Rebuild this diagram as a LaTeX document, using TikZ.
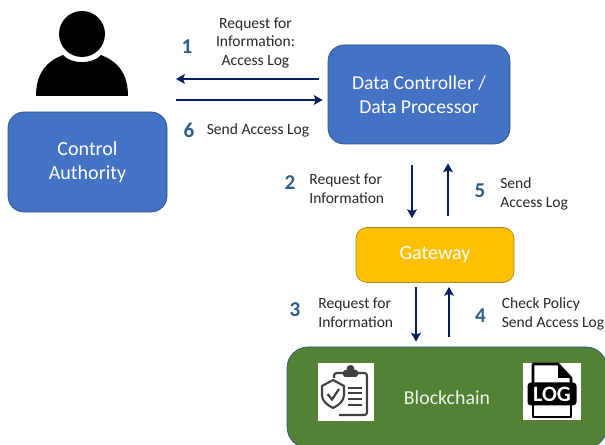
\documentclass[tikz,border=0pt]{standalone}
\usepackage{fontspec}
\setmainfont{Carlito}
\usepackage{xcolor}
\usetikzlibrary{arrows.meta,positioning}
\definecolor{boxblue}{HTML}{4472C4}
\definecolor{boxline}{HTML}{2F528F}
\definecolor{gateyellow}{HTML}{FFC000}
\definecolor{gateline}{HTML}{A98A2B}
\definecolor{chaingreen}{HTML}{548235}
\definecolor{arrownavy}{HTML}{002060}
\definecolor{stepblue}{HTML}{2E5C8A}
\definecolor{icongrey}{HTML}{404040}
\tikzset{
	actor/.style={draw=boxline, fill=boxblue, rounded corners=0.32cm, text=white, align=center, font=\fontsize{11.4}{13.6}\selectfont, inner sep=0pt},
	flow/.style={draw=arrownavy, line width=1.35pt, -{Stealth[length=5pt,width=5.5pt,inset=1pt]}},
	caption/.style={align=left, inner sep=0pt, text=black!85, font=\fontsize{8.85}{10.8}\selectfont},
	stepnum/.style={inner sep=0pt, text=stepblue, font=\fontsize{12}{14}\selectfont\bfseries}
}
\begin{document}
\begin{tikzpicture}
	\useasboundingbox (0,0) rectangle (12.1,8.9);
	%\draw [help lines] (0,0) grid (12,8);
	%Persona
	\fill [black] (1.64,8.22) circle (0.46);
	\fill [black] (0.72,6.98) .. controls (0.72,7.5) and (1.0,7.7) .. (1.26,7.8) .. controls (1.42,7.61) and (1.86,7.61) .. (2.02,7.8) .. controls (2.28,7.7) and (2.56,7.5) .. (2.56,6.98) -- cycle;
	%Riquadri
	\node [actor, minimum width=3.18cm, minimum height=2cm] (authority) at (1.75,5.66) {Control\\Authority};
	\node [actor, minimum width=3.64cm, minimum height=1.98cm, font=\fontsize{11.2}{13.6}\selectfont] (controller) at (8.38,7.01) {Data Controller /\\Data Processor};
	\node [actor, draw=gateline, fill=gateyellow, rounded corners=0.22cm, minimum width=3.16cm, minimum height=1.1cm] (gateway) at (8.70,3.80) {Gateway};
	\node [actor, draw=boxline, fill=chaingreen, minimum width=6.4cm, minimum height=2.02cm, rounded corners=0.42cm, font=\fontsize{11.3}{13}\selectfont, text=white!90!chaingreen] (blockchain) at (8.94,0.95) {Blockchain};
	%Estremi liberi
	\coordinate (toperson) at (3.52,7.32);
	\coordinate (fromperson) at (3.52,6.9);
	%Frecce
	\draw [flow, shorten <=0.18cm] (controller.west |- toperson) -- (toperson);
	\draw [flow, shorten >=0.10cm] (fromperson) -- (controller.west |- fromperson);
	\draw [flow, shorten <=0.42cm, shorten >=0.18cm] ([xshift=-0.46cm]gateway.north |- controller.south) -- ([xshift=-0.46cm]gateway.north);
	\draw [flow, shorten <=0.22cm, shorten >=0.38cm] ([xshift=0.26cm]gateway.north) -- ([xshift=0.26cm]gateway.north |- controller.south);
	\draw [flow, shorten <=0.08cm, shorten >=0.10cm] ([xshift=-0.38cm]gateway.south) -- ([xshift=-0.38cm]gateway.south |- blockchain.north);
	\draw [flow, shorten <=0.20cm, shorten >=0.08cm] ([xshift=0.28cm]gateway.south |- blockchain.north) -- ([xshift=0.28cm]gateway.south);
	%Etichette
	\node [stepnum] (num1) at (3.74,7.97) {1};
	\node [caption, align=center] (text1) at (5.11,8.04) {Request for\\Information:\\Access Log};
	\node [stepnum] (num6) at (3.78,6.3) {6};
	\node [caption, anchor=west] (text6) at (4.13,6.3) {Send Access Log};
	\node [stepnum] (num2) at (5.8,5.24) {2};
	\node [caption, anchor=west] (text2) at (6.18,5.13) {Request for\\Information};
	\node [stepnum] (num5) at (9.6,5.08) {5};
	\node [caption, anchor=west] (text5) at (10.0,5.03) {Send\\Access Log};
	\node [stepnum] (num3) at (5.9,2.7) {3};
	\node [caption, anchor=west] (text3) at (6.36,2.65) {Request for\\Information};
	\node [stepnum] (num4) at (9.61,2.58) {4};
	\node [caption, anchor=west] (text4) at (10.03,2.63) {Check Policy\\Send Access Log};
	%Icona politica
	\fill [white] (6.36,0.48) rectangle (7.48,1.64);
	\draw [icongrey, line width=1.2pt, rounded corners=1.5pt] (6.68,1.28) -- (6.68,1.44) -- (7.34,1.44) -- (7.34,0.60) -- (6.78,0.60);
	\fill [icongrey, rounded corners=1pt] (6.86,1.36) rectangle (7.16,1.50);
	\fill [icongrey] (7.01,1.52) circle (0.08);
	\fill [white] (6.38,0.72) rectangle (6.92,1.34);
	\draw [icongrey, line width=1.2pt, line join=round] (6.44,1.18) -- (6.66,1.30) -- (6.88,1.18) -- (6.88,1.0) .. controls (6.88,0.88) and (6.78,0.8) .. (6.66,0.74) .. controls (6.54,0.8) and (6.44,0.88) .. (6.44,1.0) -- cycle;
	\draw [icongrey, line width=1.2pt] (6.55,1.02) -- (6.64,0.91) -- (6.78,1.12);
	\foreach \y in {1.14,1.04,0.92,0.80} {
		\draw [icongrey, line width=1.1pt] (6.95,\y) -- (7.24,\y);
	}
	%Icona registro
	\fill [white] (10.46,0.5) rectangle (11.62,1.64);
	\draw [black, line width=1.5pt, line join=round] (10.66,1.1) -- (10.66,1.62) -- (11.16,1.62) -- (11.42,1.34) -- (11.42,1.1);
	\draw [black, line width=1.5pt, line join=round] (10.66,0.9) -- (10.66,0.56) -- (11.42,0.56) -- (11.42,0.9);
	\fill [black] (11.16,1.62) -- (11.16,1.34) -- (11.42,1.34) -- cycle;
	\node [fill=black, rounded corners=2pt, text=white, inner sep=0pt, minimum width=0.98cm, minimum height=0.46cm, font=\fontsize{12.5}{12.5}\selectfont\bfseries] (logmark) at (11.04,1.02) {LOG};
\end{tikzpicture}
\end{document}
